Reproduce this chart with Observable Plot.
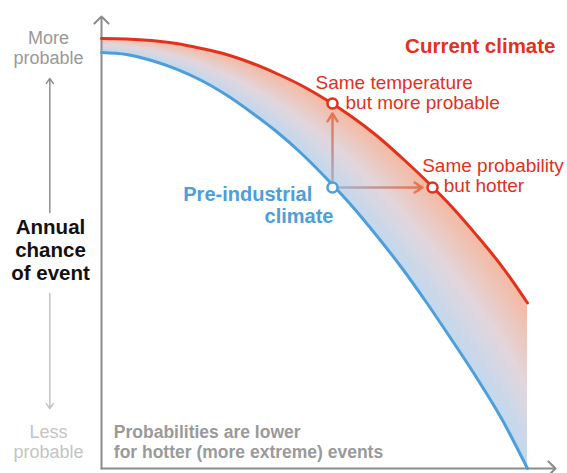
<!DOCTYPE html>
<html><head><meta charset="utf-8">
<script src="https://cdn.jsdelivr.net/npm/d3@7"></script>
<script src="https://cdn.jsdelivr.net/npm/@observablehq/plot@0.6"></script>
<style>body{margin:0;background:#fff} svg{display:block}</style>
</head><body><div id="chart"></div>
<script>
// Arbitrary units: temperature (x) and annual probability (y)
const temperature = [0,25,50,75,100,125,150,175,200,225,250,275,300,325,350,375,400,426];
const currentClimate = [430,429.6,428,425,420,414,405.5,395,383,368.5,352,333,311,287.5,262,233.4,202.7,165.5];
const preIndustrialClimate = [416,414,408,399.4,388,373.4,356,337,315,290,263,233,201,166,129,91,50,0];
const temperatureMax = 454;
const probabilityMax = 452;
// highlighted event
const eventTemperature = 231;
const eventProbability = 281;
const currentProbabilityAtEventTemp = 365;
const currentTemperatureAtEventProb = 331;

const curLine = temperature.map((t, i) => ({t, p: currentClimate[i]}));
const preLine = temperature.map((t, i) => ({t, p: preIndustrialClimate[i]}));

const RED = "#e2311d", BLUE = "#4e9edb", GRAY = "#8c8c8c";
const FONT = "Liberation Sans, Arial, Helvetica, sans-serif";
const CURVE = "catmull-rom";

// band shading: colour runs across the band from the pre-industrial curve (blue) to the current curve (salmon)
const bandColor = d3.piecewise(d3.interpolateRgb, ["#c1d8ef", "#e2d6dc", "#f5b9a2"]);
const SLICES = 32;
const bandMarks = d3.range(SLICES).map(k => {
  const f = k / SLICES;
  return Plot.areaY(temperature.map((t, i) => ({t, lo: preIndustrialClimate[i] + f * (currentClimate[i] - preIndustrialClimate[i]), hi: currentClimate[i]})),
    {x: "t", y1: "lo", y2: "hi", fill: bandColor((k + 0.5) / SLICES), curve: CURVE});
});

const chart = Plot.plot({
  width: 567, height: 473,
  marginTop: 16, marginRight: 12, marginBottom: 5, marginLeft: 101,
  x: {domain: [0, temperatureMax], axis: null},
  y: {domain: [0, probabilityMax], axis: null},
  style: {fontFamily: FONT, background: "#fff", overflow: "visible"},
  marks: [
    ...bandMarks,
    // axes with arrowheads
    Plot.arrow([0], {x1: 0, y1: 0, x2: 0, y2: probabilityMax, stroke: GRAY, strokeWidth: 2, headLength: 7.5, headAngle: 90}),
    Plot.arrow([0], {x1: 0, y1: 0, x2: temperatureMax, y2: 0, stroke: GRAY, strokeWidth: 2, headLength: 7.5, headAngle: 90}),
    Plot.line(preLine, {x: "t", y: "p", stroke: BLUE, strokeWidth: 3, curve: CURVE}),
    Plot.line(curLine, {x: "t", y: "p", stroke: RED, strokeWidth: 3, curve: CURVE}),
    // annotation arrows
    Plot.arrow([0], {x1: eventTemperature, y1: eventProbability + 6, x2: eventTemperature, y2: currentProbabilityAtEventTemp - 10,
      stroke: "url(#vGrad)", strokeWidth: 2.5, headLength: 5.6, headAngle: 64}),
    Plot.arrow([0], {x1: eventTemperature + 6, y1: eventProbability, x2: currentTemperatureAtEventProb - 10, y2: eventProbability,
      stroke: "url(#hGrad)", strokeWidth: 2.5, headLength: 5.6, headAngle: 64}),
    Plot.dot([[eventTemperature, eventProbability]], {x: d => d[0], y: d => d[1], r: 5, fill: "#fff", stroke: BLUE, strokeWidth: 2.5}),
    Plot.dot([[eventTemperature, currentProbabilityAtEventTemp], [currentTemperatureAtEventProb, eventProbability]],
      {x: d => d[0], y: d => d[1], r: 5, fill: "#fff", stroke: RED, strokeWidth: 2.5}),
    // left y-label arrows
    Plot.arrow([0], {x1: -51.7, y1: 256, x2: -51.7, y2: 390, stroke: "#8f8f8f", strokeWidth: 1.5, headLength: 6, headAngle: 70}),
    Plot.arrow([0], {x1: -51.7, y1: 175, x2: -51.7, y2: 60, stroke: "#c3c3c3", strokeWidth: 1.5, headLength: 6, headAngle: 70}),
    // texts
    Plot.text(["Current climate"], {x: temperatureMax, y: 416, textAnchor: "end", lineAnchor: "bottom", fill: RED, fontSize: 20.5, fontWeight: "bold"}),
    Plot.text(["Same temperature"], {x: 214, y: 379.7, textAnchor: "start", lineAnchor: "bottom", fill: RED, fontSize: 19}),
    Plot.text(["but more probable"], {x: 244, y: 359.7, textAnchor: "start", lineAnchor: "bottom", fill: RED, fontSize: 19}),
    Plot.text(["Same probability"], {x: 320.7, y: 296.3, textAnchor: "start", lineAnchor: "bottom", fill: RED, fontSize: 19}),
    Plot.text(["but hotter"], {x: 342.3, y: 276.3, textAnchor: "start", lineAnchor: "bottom", fill: RED, fontSize: 19}),
    Plot.text(["Pre-industrial"], {x: 210.7, y: 268, textAnchor: "end", lineAnchor: "bottom", fill: BLUE, fontSize: 20, fontWeight: "bold"}),
    Plot.text(["climate"], {x: 232, y: 245.3, textAnchor: "end", lineAnchor: "bottom", fill: BLUE, fontSize: 20, fontWeight: "bold"}),
    Plot.text(["Annual", "chance", "of event"], {x: -51, y: (d, i) => 235 - 23 * i, textAnchor: "middle", lineAnchor: "bottom", fill: "#111", fontSize: 20.5, fontWeight: "bold"}),
    Plot.text(["More", "probable"], {x: -53, y: (d, i) => 425 - 20 * i, textAnchor: "middle", lineAnchor: "bottom", fill: "#999", fontSize: 18}),
    Plot.text(["Less", "probable"], {x: -53, y: (d, i) => 30.3 - 20 * i, textAnchor: "middle", lineAnchor: "bottom", fill: "#c4c4c4", fontSize: 18}),
    Plot.text(["Probabilities are lower", "for hotter (more extreme) events"], {x: 12.3, y: (d, i) => 30.7 - 20 * i, textAnchor: "start", lineAnchor: "bottom", fill: "#9a9a9a", fontSize: 17.5, fontWeight: "bold"})
  ]
});

const X = chart.scale("x").apply, Y = chart.scale("y").apply;
const defs = d3.select(chart).insert("defs", ":first-child");
function grad(id, x1, y1, x2, y2, stops) {
  const g = defs.append("linearGradient").attr("id", id).attr("gradientUnits", "userSpaceOnUse")
    .attr("x1", x1).attr("y1", y1).attr("x2", x2).attr("y2", y2);
  stops.forEach(([o, c]) => g.append("stop").attr("offset", o).attr("stop-color", c));
}
grad("vGrad", X(eventTemperature), Y(eventProbability), X(eventTemperature), Y(currentProbabilityAtEventTemp - 10), [[0, "#9fb2cf"], [1, "#e7754f"]]);
grad("hGrad", X(eventTemperature), Y(eventProbability), X(currentTemperatureAtEventProb - 10), Y(eventProbability), [[0, "#9fb6d6"], [1, "#e7754f"]]);
document.getElementById("chart").append(chart);
</script>
</body></html>
